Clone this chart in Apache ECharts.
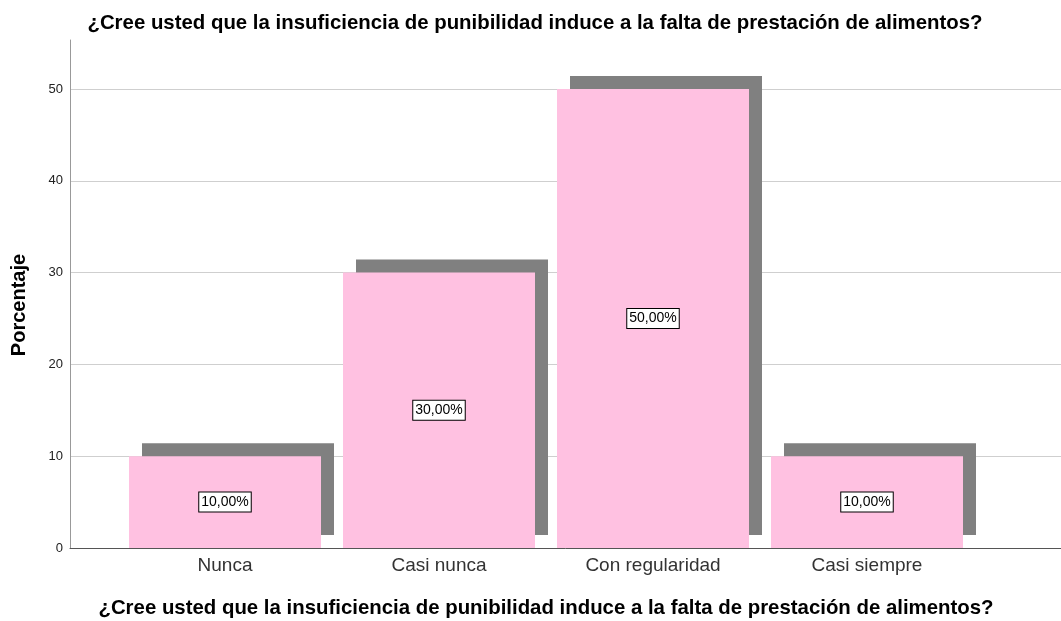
<!DOCTYPE html>
<html>
<head>
<meta charset="utf-8">
<script src="https://cdn.jsdelivr.net/npm/echarts@6/dist/echarts.min.js"></script>
<style>
html,body{margin:0;padding:0;background:#fff;}
#c{width:1061px;height:621px;}
</style>
</head>
<body>
<div id="c"></div>
<script>
const categories = ['Nunca', 'Casi nunca', 'Con regularidad', 'Casi siempre'];
const percentages = [10, 30, 50, 10];
const yTicks = [0, 10, 20, 30, 40, 50];
const titleText = '¿Cree usted que la insuficiencia de punibilidad induce a la falta de prestación de alimentos?';
const yName = 'Porcentaje';

const FONT = '"Liberation Sans", Arial, sans-serif';
const X0 = 548, YTOP = 40, GRID50 = 89;
const yMaxFull = 50 * (X0 - YTOP) / (X0 - GRID50);

const chart = echarts.init(document.getElementById('c'), null, {renderer: 'canvas'});
chart.setOption({
  animation: false,
  backgroundColor: '#fff',
  textStyle: {fontFamily: FONT},
  grid: [
    {left: 70, right: 0, top: GRID50, bottom: 621 - X0},
    {left: 70, right: 0, top: YTOP, bottom: 621 - X0},
    {left: 118, right: 87, top: YTOP, bottom: 621 - X0}
  ],
  xAxis: [
    {gridIndex: 0, type: 'value', min: 0, max: 1, axisLine: {show: true, onZero: false, lineStyle: {color: '#555', width: 1}},
     axisTick: {show: false}, axisLabel: {show: false}, splitLine: {show: false}},
    {gridIndex: 1, type: 'value', min: 0, max: 1, show: false},
    {gridIndex: 2, type: 'category', data: categories,
     axisLine: {show: false}, axisTick: {show: false},
     axisLabel: {fontSize: 19, color: '#333', margin: 8, fontFamily: FONT}}
  ],
  yAxis: [
    {gridIndex: 0, type: 'value', min: yTicks[0], max: yTicks[yTicks.length - 1], interval: 10,
     axisLine: {show: false}, axisTick: {show: false},
     axisLabel: {fontSize: 13, color: '#222', margin: 7, fontFamily: FONT},
     splitLine: {show: true, lineStyle: {color: '#cfcfcf', width: 1}}},
    {gridIndex: 1, type: 'value', min: 0, max: yMaxFull,
     axisLine: {show: true, lineStyle: {color: '#999', width: 1}}, axisTick: {show: false},
     axisLabel: {show: false}, splitLine: {show: false}},
    {gridIndex: 2, type: 'value', min: 0, max: yMaxFull, show: false}
  ],
  series: [{
    type: 'bar',
    xAxisIndex: 2,
    yAxisIndex: 2,
    data: percentages,
    barWidth: 192,
    clip: false,
    itemStyle: {
      color: '#ffc1e1',
      shadowColor: '#808080',
      shadowBlur: 0,
      shadowOffsetX: 13,
      shadowOffsetY: -13
    },
    label: {
      show: true,
      position: 'inside',
      formatter: p => p.value.toFixed(2).replace('.', ',') + '%',
      fontSize: 14,
      color: '#000',
      fontFamily: FONT,
      backgroundColor: '#fff',
      borderColor: '#000',
      borderWidth: 1,
      padding: [3, 2, 2, 2]
    }
  }],
  graphic: [
    {type: 'text', x: 535, y: 23, style: {text: titleText, textAlign: 'center', textVerticalAlign: 'middle',
      font: 'bold 20.4px ' + FONT, fill: '#000'}},
    {type: 'text', x: 546, y: 608, style: {text: titleText, textAlign: 'center', textVerticalAlign: 'middle',
      font: 'bold 20.4px ' + FONT, fill: '#000'}},
    {type: 'text', x: 19, y: 305, rotation: Math.PI / 2, style: {text: yName, textAlign: 'center', textVerticalAlign: 'middle',
      font: 'bold 20px ' + FONT, fill: '#000'}}
  ]
});
</script>
</body>
</html>
